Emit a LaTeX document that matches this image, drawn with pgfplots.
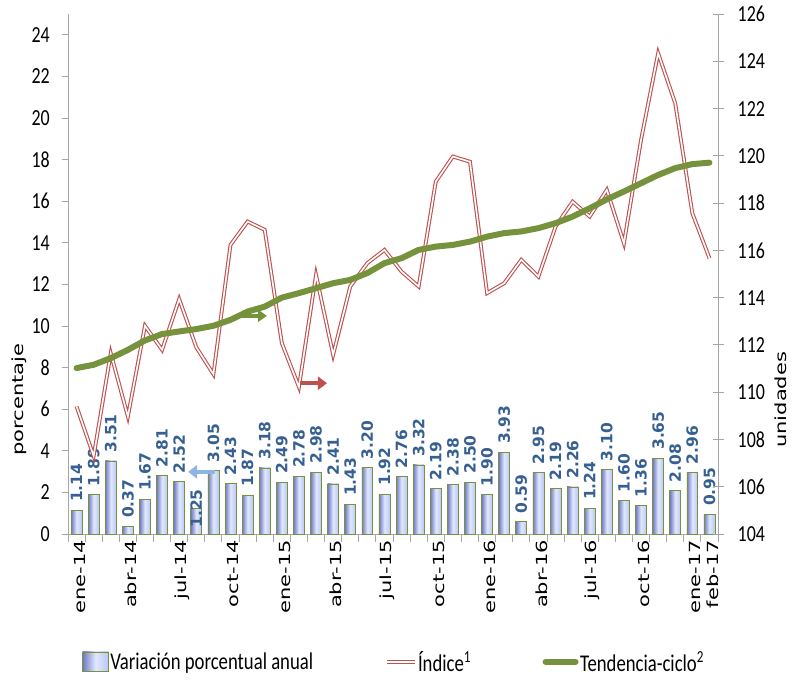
\documentclass[border=0pt]{standalone}
\usepackage{fontspec}
\setmainfont{Carlito}[FakeStretch=0.78]
\newfontfamily\dejavu{DejaVu Sans}
\usepackage{graphicx}
\usepackage{pgfplots}
\usepackage{pgfplotstable}
\pgfplotsset{compat=1.18}
\usetikzlibrary{arrows.meta}

\definecolor{barG}{RGB}{119,147,60}
\definecolor{idxR}{RGB}{192,80,77}
\definecolor{trendG}{RGB}{118,146,60}
\definecolor{labB}{RGB}{55,96,146}
\definecolor{axG}{RGB}{166,166,166}
\definecolor{arrB}{RGB}{141,180,226}
\definecolor{barD}{RGB}{112,120,196}
\definecolor{barM}{RGB}{186,198,244}
\definecolor{barL}{RGB}{224,232,255}

\newcommand\xl[1]{\scalebox{1}[0.73]{\dejavu\fontsize{21}{21}\selectfont #1}}

\pgfplotsset{
  mybarlegend/.style={legend image code/.code={\draw[##1] (0pt,-9pt) rectangle (26pt,10pt);}},
  mylinelegend/.style={legend image code/.code={\draw[##1] (0pt,0pt) -- (#1,0pt);}},
}

\pgfplotstableread{
x y dy
0 1.14 0
1 1.89 0
2 3.51 0
3 0.37 0
4 1.67 0
5 2.81 0
6 2.52 0
7 1.25 -28
8 3.05 0
9 2.43 0
10 1.87 0
11 3.18 0
12 2.49 0
13 2.78 0
14 2.98 0
15 2.41 0
16 1.43 0
17 3.20 0
18 1.92 0
19 2.76 0
20 3.32 0
21 2.19 0
22 2.38 0
23 2.50 0
24 1.90 0
25 3.93 0
26 0.59 0
27 2.95 0
28 2.19 0
29 2.26 0
30 1.24 0
31 3.10 0
32 1.60 0
33 1.36 0
34 3.65 0
35 2.08 0
36 2.96 0
37 0.95 0
}\bars

\pgfplotstableread{
x idx trend
0 109.40 111.02
1 107.30 111.16
2 111.65 111.44
3 108.97 111.79
4 112.81 112.19
5 111.79 112.46
6 113.94 112.57
7 111.90 112.67
8 110.76 112.81
9 116.23 113.06
10 117.22 113.41
11 116.87 113.62
12 112.08 114.00
13 110.22 114.19
14 114.96 114.40
15 111.58 114.61
16 114.47 114.75
17 115.46 115.04
18 116.02 115.46
19 115.10 115.67
20 114.47 116.02
21 118.91 116.16
22 119.97 116.23
23 119.75 116.37
24 114.19 116.58
25 114.61 116.73
26 115.60 116.80
27 114.89 116.94
28 117.00 117.15
29 118.06 117.43
30 117.43 117.78
31 118.56 118.16
32 116.30 118.49
33 120.67 118.84
34 124.34 119.19
35 122.22 119.48
36 117.57 119.65
37 115.67 119.71
}\lines

\begin{document}
\begin{tikzpicture}
\path[use as bounding box] (-68pt,-147pt) rectangle (731pt,534pt);
\begin{axis}[
  at={(0pt,0pt)}, anchor=south west,
  scale only axis, width=650pt, height=520pt,
  xmin=-0.5, xmax=37.5, ymin=0, ymax=25,
  axis x line*=bottom, axis y line*=left,
  axis line style={axG, line width=0.9pt},
  ytick={0,2,...,24},
  xtick={0,3,...,36,37},
  xticklabels={\xl{ene-14},\xl{abr-14},\xl{jul-14},\xl{oct-14},\xl{ene-15},\xl{abr-15},\xl{jul-15},\xl{oct-15},\xl{ene-16},\xl{abr-16},\xl{jul-16},\xl{oct-16},\xl{ene-17},\xl{feb-17}},
  minor xtick={-0.5,0.5,...,37.5},
  every major x tick/.style={draw=none},
  every minor x tick/.style={axG, line width=0.9pt},
  every major y tick/.style={axG, line width=0.9pt},
  tick align=outside, major tick length=6pt, minor tick length=8pt,
  /pgf/number format/assume math mode=true,
  yticklabel style={font=\fontsize{23}{23}\selectfont, inner sep=0pt, xshift=-12pt},
  xticklabel style={rotate=90, anchor=east, inner sep=0pt, yshift=-3pt},
  ylabel={\xl{porcentaje}},
  ylabel style={at={(axis description cs:-0.063,0.258)}, anchor=south, inner sep=0pt},
  clip=false,
]
\pgfplotsinvokeforeach{0,...,37}{
\addplot[ybar, bar shift=0pt, bar width=0.64, draw=barG, line width=0.7pt,
  left color=barD, right color=barM, middle color=barL,
  restrict expr to domain={\coordindex}{#1:#1},
  visualization depends on={\thisrow{dy}\as\labdy},
  nodes near coords={\pgfmathprintnumber[fixed,fixed zerofill,precision=2]{\pgfplotspointmeta}},
  every node near coord/.style={yshift=\labdy, rotate=90, anchor=west, font=\dejavu\bfseries\fontsize{15.5}{16}\selectfont, text=labB, inner xsep=8pt, inner ysep=0pt},
] table[x=x, y=y] {\bars};
}
\end{axis}
\begin{axis}[
  at={(0pt,0pt)}, anchor=south west,
  scale only axis, width=650pt, height=520pt,
  xmin=-0.5, xmax=37.5, ymin=104, ymax=126,
  axis x line=none, axis y line*=right,
  axis line style={axG, line width=0.9pt},
  ytick={104,106,...,126},
  every major y tick/.style={axG, line width=0.9pt},
  tick align=center, major tick length=11pt,
  /pgf/number format/assume math mode=true,
  yticklabel style={font=\fontsize{23}{23}\selectfont, inner sep=0pt, xshift=14pt},
  ylabel={\xl{unidades}},
  ylabel style={at={(axis description cs:1.0877,0.258)}, anchor=north, inner sep=0pt},
  clip=false,
  legend style={at={(axis description cs:0.0215,-0.246)}, anchor=west, draw=none, fill=none,
    legend columns=3, inner sep=0pt, font=\fontsize{24}{28}\selectfont,
    nodes={inner sep=1.5pt},
    /tikz/every even column/.append style={column sep=70pt}},
  legend cell align=left,
]
\addlegendimage{mybarlegend, draw=barG, line width=0.7pt, left color=barD, right color=barM, middle color=barL}
\addplot[draw=idxR, line width=1.1pt, double=white, double distance=1.6pt, mylinelegend=28pt] table[x=x, y=idx] {\lines};
\addplot[draw=trendG, line width=6pt, line cap=round, line join=round, mylinelegend=30pt] table[x=x, y=trend] {\lines};
\draw[-{Triangle[length=9pt,width=12pt]}, line width=3.5pt, trendG] (axis cs:9.38,113.23) -- (axis cs:11.13,113.23);
\draw[-{Triangle[length=9pt,width=13pt]}, line width=4pt, idxR] (axis cs:13.06,110.38) -- (axis cs:14.64,110.38);
\draw[-{Triangle[length=9pt,width=13pt]}, line width=4pt, arrB] (axis cs:8.09,106.63) -- (axis cs:6.52,106.63);
\legend{Variación porcentual anual, Índice\textsuperscript{1}, Tendencia-ciclo\textsuperscript{2}}
\end{axis}
\end{tikzpicture}
\end{document}
